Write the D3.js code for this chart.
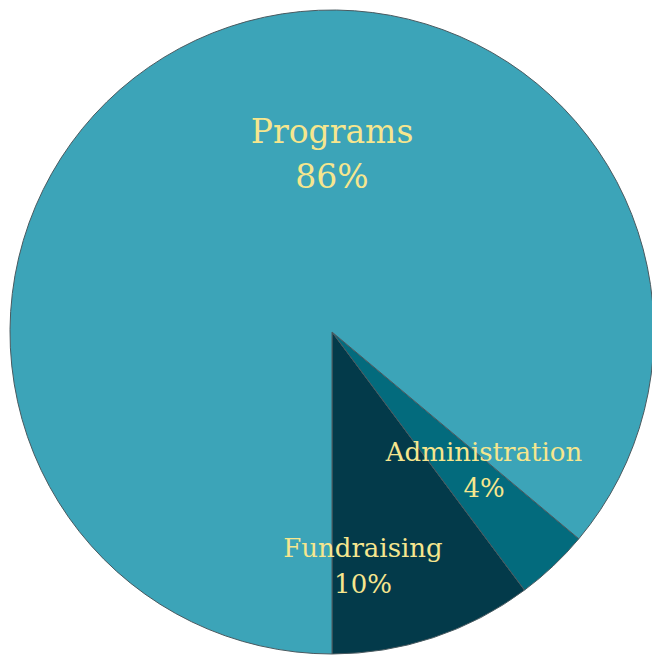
<!DOCTYPE html>
<html><head><meta charset="utf-8">
<script src="https://cdn.jsdelivr.net/npm/d3@7"></script>
<style>html,body{margin:0;padding:0;background:#fff;}</style>
</head><body>
<svg id="c" width="652" height="656"></svg>
<script>
const categories = ["Fundraising", "Administration", "Programs"];
const values = [10.2, 3.7, 86.1];
const labels = ["10%", "4%", "86%"];
const colors = ["#033A4A", "#036B7D", "#3CA4B8"];

const svg = d3.select("#c");
const cx = 332, cy = 332, r = 322;
const g = svg.append("g").attr("transform", `translate(${cx},${cy})`);
const pie = d3.pie().sort(null).value(d => d).startAngle(Math.PI).endAngle(-Math.PI);
const arcs = pie(values);
const arc = d3.arc().innerRadius(0).outerRadius(r);
g.selectAll("path").data(arcs).join("path")
  .attr("d", arc)
  .attr("fill", (d, i) => colors[i])
  .attr("stroke", "#4a5a60")
  .attr("stroke-width", 1);

const labelPos = [
  {x: 363 - cx, y: 557 - cy, size: 26, gap: 36},
  {x: 484 - cx, y: 461 - cy, size: 26, gap: 36},
  {x: 332 - cx, y: 143 - cy, size: 33, gap: 45}
];
arcs.forEach((a, i) => {
  const p = labelPos[i];
  const t = g.append("text")
    .attr("text-anchor", "middle")
    .attr("fill", "#F6E68E")
    .attr("font-family", "'DejaVu Serif', serif")
    .attr("font-size", p.size);
  t.append("tspan").attr("x", p.x).attr("y", p.y).text(categories[i]);
  t.append("tspan").attr("x", p.x).attr("y", p.y + p.gap).text(labels[i]);
});
</script>
</body></html>
